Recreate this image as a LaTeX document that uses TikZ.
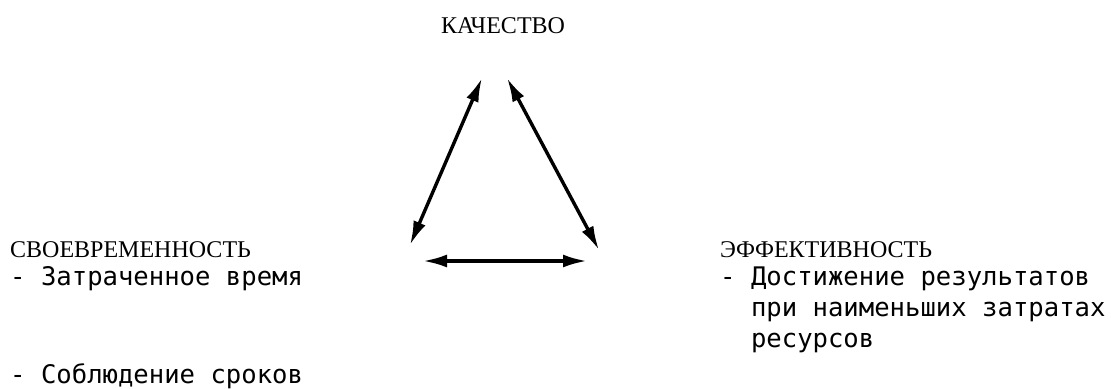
\documentclass[tikz,border=0pt]{standalone}
\usepackage{fontspec}
\setmainfont{Liberation Serif}
\newfontfamily\bodyfont{DejaVu Sans Mono}
\usetikzlibrary{arrows.meta}
\tikzset{
  head/.style={anchor=base west, inner sep=0pt, font=\fontsize{24bp}{28bp}\selectfont},
  body/.style={anchor=base west, inner sep=0pt, font=\bodyfont\fontsize{25.6bp}{31bp}\selectfont},
  link/.style={line width=3.4bp, {Latex[length=24bp,width=13bp]}-{Latex[length=24bp,width=13bp]}}
}
\begin{document}
\begin{tikzpicture}[x=1bp,y=-1bp]
\useasboundingbox (0,0) rectangle (1111,388);
\node[head, anchor=base] (q) at (503,33) {КАЧЕСТВО};
\node[head] (t) at (10,257) {СВОЕВРЕМЕННОСТЬ};
\node[body] (t1) at (10,285) {- Затраченное время};
\node[body] (t2) at (10,383) {- Соблюдение сроков};
\node[head] (e) at (720,257) {ЭФФЕКТИВНОСТЬ};
\node[body] (e1) at (720,285) {- Достижение результатов};
\node[body] (e2) at (720,316) {\ \ при наименьших затратах};
\node[body] (e3) at (720,347) {\ \ ресурсов};
\coordinate (qa) at (482,78);
\coordinate (qb) at (507,78);
\coordinate (ta) at (410,245);
\coordinate (tb) at (423,261);
\coordinate (ea) at (599,250);
\coordinate (eb) at (587,261);
\draw[link] (qa) -- (ta);
\draw[link] (qb) -- (ea);
\draw[link] (tb) -- (eb);
\end{tikzpicture}
\end{document}
